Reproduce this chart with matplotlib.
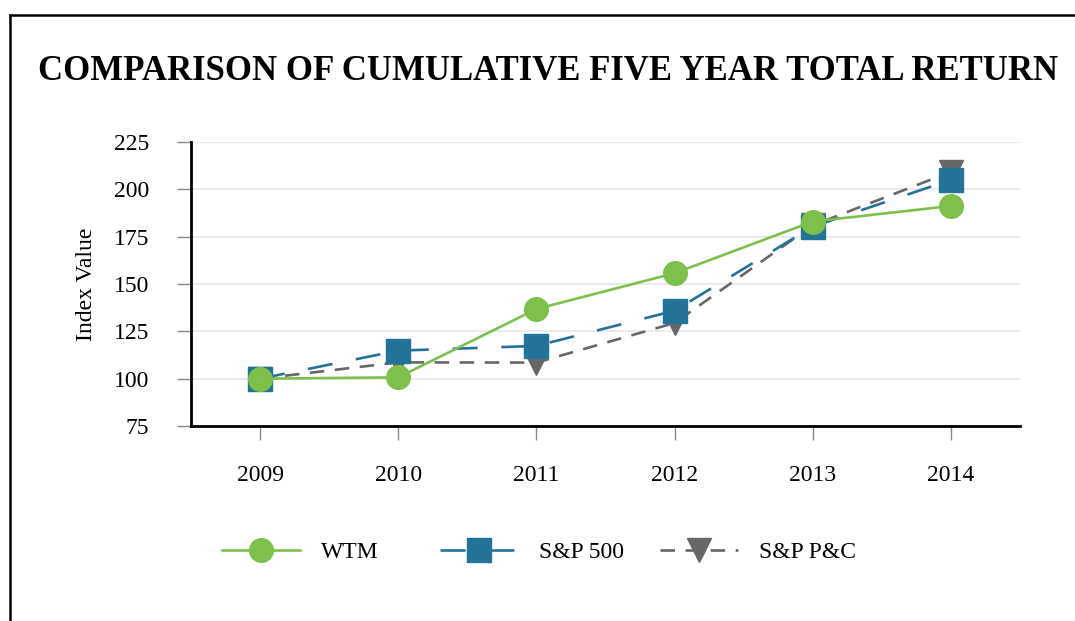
"""Comparison of cumulative five year total return."""

import matplotlib
matplotlib.use("Agg")
import matplotlib.pyplot as plt
from matplotlib.lines import Line2D

plt.rcParams['font.family'] = ['Liberation Serif', 'DejaVu Serif']

# datos
years = ['2009', '2010', '2011', '2012', '2013', '2014']
wtm = [100, 100.7, 136.8, 155.7, 183.0, 191.2]
sp500 = [100, 114.8, 117.3, 135.9, 180.3, 205.0]
sp_pc = [100, 108.6, 108.5, 129.4, 181.0, 209.2]
yticks = [75, 100, 125, 150, 175, 200, 225]

green = '#7dc04b'
blue = '#237297'
gray = '#676767'

fig = plt.figure(figsize=(10.75, 6.21), dpi=100)
ax = fig.add_axes([191 / 1075, 1 - 426 / 621, 829 / 1075, 284 / 621])

x = list(range(len(years)))
l3, = ax.plot(x, sp_pc, color=gray, lw=1.9, ls=(0, (5.5, 4)),
              marker='v', ms=17, mec=gray, mfc=gray, zorder=3)
l2, = ax.plot(x, sp500, color=blue, lw=1.9, ls=(0, (9.5, 9)),
              marker='s', ms=17, mec=blue, mfc=blue, zorder=4)
l1, = ax.plot(x, wtm, color=green, lw=1.9, marker='o', ms=17,
              mec=green, mfc=green, zorder=5)

ax.set_xlim(-0.5, 5.5)
ax.set_ylim(75, 225)
ax.set_xticks(x)
ax.set_xticklabels(years)
ax.set_yticks(yticks)
ax.grid(axis='y', color='#e6e6e6', lw=1.2)
ax.set_axisbelow(True)
for s in ['top', 'right']:
    ax.spines[s].set_visible(False)
for s in ['left', 'bottom']:
    ax.spines[s].set_linewidth(2)
    ax.spines[s].set_color('black')
ax.tick_params(axis='both', direction='out', length=10, width=1,
               color='#888888', labelsize=17)
ax.tick_params(axis='y', pad=20)
ax.tick_params(axis='x', pad=18)
ax.set_ylabel('Index Value', fontsize=17, labelpad=12)

fig.text(548 / 1075, 1 - 71 / 621,
         'COMPARISON OF CUMULATIVE FIVE YEAR TOTAL RETURN',
         ha='center', va='center', fontsize=25, fontweight='bold')

# leyendas separadas para respetar las posiciones
for h, lab, xpos in [(l1, 'WTM', 222), (l2, 'S&P 500', 440),
                     (l3, 'S&P P&C', 660)]:
    fig.legend([h], [lab], loc='center left',
               bbox_to_anchor=(xpos / 1075, 1 - 552 / 621),
               frameon=False, fontsize=17, handlelength=3.3,
               handletextpad=0.9, borderpad=0, borderaxespad=0)

# marco exterior
fig.add_artist(Line2D([10 / 1075, 1], [1 - 15 / 621, 1 - 15 / 621],
                      transform=fig.transFigure, color='black', lw=1.8))
fig.add_artist(Line2D([10 / 1075, 10 / 1075], [0, 1 - 15 / 621],
                      transform=fig.transFigure, color='black', lw=1.8))

fig.savefig('out.png', dpi=100)
